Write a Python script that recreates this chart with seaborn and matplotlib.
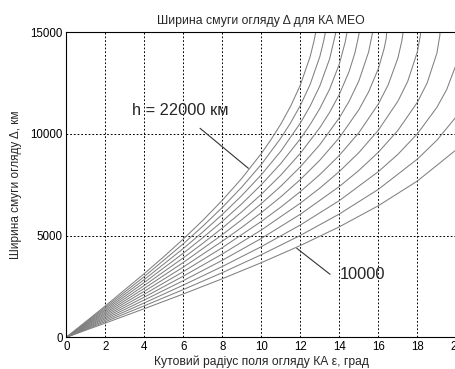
import matplotlib
matplotlib.use("Agg")
import matplotlib.pyplot as plt
import seaborn as sns
import pandas as pd

# ---- data (epsilon in degrees, swath width in km) ----
heights = [10000, 11000, 12000, 13000, 14000, 15000, 16000, 17000, 18000, 19000, 20000, 21000, 22000]

eps_h10000 = [0, 2, 4, 6, 8, 10, 12, 14, 16, 18, 20]
delta_h10000 = [0, 699, 1407, 2131, 2881, 3670, 4513, 5434, 6471, 7687, 9230]

eps_h11000 = [0, 2, 4, 6, 8, 10, 12, 14, 16, 18, 19, 20]
delta_h11000 = [0, 770, 1549, 2348, 3180, 4061, 5011, 6065, 7278, 8765, 9692, 10860]

eps_h12000 = [0, 2, 4, 6, 8, 10, 12, 14, 16, 17, 18, 19, 19.5, 20]
delta_h12000 = [0, 840, 1691, 2567, 3483, 4458, 5523, 6724, 8148, 8999, 10009, 11308, 12180, 13450]

eps_h13000 = [0, 2, 4, 6, 8, 10, 12, 14, 15, 16, 17, 18, 18.5, 19, 19.15, 19.2]
delta_h13000 = [0, 910, 1834, 2787, 3788, 4863, 6051, 7418, 8206, 9104, 10173, 11559, 12508, 13976, 14840, 15745]

eps_h14000 = [0, 2, 4, 6, 8, 10, 12, 13, 14, 15, 16, 17, 17.5, 18, 18.15, 18.225]
delta_h14000 = [0, 980, 1977, 3008, 4097, 5277, 6597, 7338, 8155, 9085, 10186, 11610, 12576, 14042, 14842, 15962]

eps_h15000 = [0, 2, 4, 6, 8, 10, 11, 12, 13, 14, 15, 16, 16.5, 17, 17.2, 17.25, 17.345]
delta_h15000 = [0, 1050, 2120, 3230, 4410, 5699, 6404, 7166, 8003, 8950, 10063, 11477, 12411, 13730, 14570, 14870, 16158]

eps_h16000 = [0, 2, 4, 6, 8, 9, 10, 11, 12, 13, 14, 15, 15.5, 16, 16.3, 16.4, 16.547]
delta_h16000 = [0, 1121, 2264, 3454, 4727, 5408, 6132, 6909, 7759, 8712, 9820, 11195, 12071, 13218, 14220, 14697, 16335]

eps_h17000 = [0, 2, 4, 6, 8, 9, 10, 11, 12, 13, 14, 14.5, 15, 15.5, 15.7, 15.819]
delta_h17000 = [0, 1191, 2408, 3680, 5048, 5787, 6576, 7433, 8385, 9476, 10798, 11610, 12610, 14036, 14978, 16497]

eps_h18000 = [0, 2, 4, 6, 7, 8, 9, 10, 11, 12, 13, 13.5, 14, 14.5, 14.8, 15.0, 15.155]
delta_h18000 = [0, 1261, 2552, 3907, 4623, 5374, 6173, 7033, 7979, 9048, 10313, 11064, 11950, 13075, 13996, 14883, 16645]

eps_h19000 = [0, 2, 4, 6, 7, 8, 9, 10, 11, 12, 12.5, 13, 13.5, 14, 14.3, 14.4, 14.544]
delta_h19000 = [0, 1332, 2697, 4136, 4900, 5706, 6568, 7506, 8551, 9761, 10460, 11256, 12205, 13443, 14525, 15041, 16781]

eps_h20000 = [0, 2, 4, 6, 7, 8, 9, 10, 11, 12, 12.5, 13, 13.5, 13.8, 13.981]
delta_h20000 = [0, 1402, 2843, 4367, 5180, 6044, 6973, 7995, 9155, 10538, 11369, 12367, 13694, 14916, 16906]

eps_h21000 = [0, 2, 4, 6, 7, 8, 9, 10, 11, 11.5, 12, 12.5, 13, 13.2, 13.28, 13.46]
delta_h21000 = [0, 1473, 2989, 4600, 5465, 6387, 7390, 8506, 9799, 10548, 11405, 12435, 13813, 14594, 14995, 17022]

eps_h22000 = [0, 2, 4, 5, 6, 7, 8, 9, 10, 10.5, 11, 11.5, 12, 12.5, 12.7, 12.78, 12.977]
delta_h22000 = [0, 1543, 3135, 3967, 4835, 5753, 6738, 7819, 9040, 9728, 10492, 11364, 12409, 13798, 14575, 14969, 17129]

xticks = [0, 2, 4, 6, 8, 10, 12, 14, 16, 18, 20]
yticks = [0, 5000, 10000, 15000]

title = "Ширина смуги огляду Δ для КА МЕО"
xlabel = "Кутовий радіус поля огляду КА ε, град"
ylabel = "Ширина смуги огляду Δ, км"
label_top = "h = 22000 км"
label_bottom = "10000"

# ---- build long-form table ----
series = {
    10000: (eps_h10000, delta_h10000), 11000: (eps_h11000, delta_h11000),
    12000: (eps_h12000, delta_h12000), 13000: (eps_h13000, delta_h13000),
    14000: (eps_h14000, delta_h14000), 15000: (eps_h15000, delta_h15000),
    16000: (eps_h16000, delta_h16000), 17000: (eps_h17000, delta_h17000),
    18000: (eps_h18000, delta_h18000), 19000: (eps_h19000, delta_h19000),
    20000: (eps_h20000, delta_h20000), 21000: (eps_h21000, delta_h21000),
    22000: (eps_h22000, delta_h22000),
}
rows = []
for h in heights:
    e, d = series[h]
    for xe, yd in zip(e, d):
        rows.append({"h": h, "eps": xe, "delta": yd})
df = pd.DataFrame(rows)

sns.set_style("white")
plt.rcParams["font.family"] = ["Liberation Sans", "DejaVu Sans"]

fig = plt.figure(figsize=(4.56, 3.69), dpi=100)
ax = fig.add_axes([0.1454, 0.0859, 0.8555, 0.8266])

sns.lineplot(data=df, x="eps", y="delta", units="h", estimator=None,
             color="0.5", linewidth=0.75, sort=False, ax=ax, legend=False)

ax.set_xlim(0, 20)
ax.set_ylim(0, 15000)
ax.set_xticks(xticks)
ax.set_yticks(yticks)
ax.set_xticklabels([str(t) for t in xticks])
ax.set_yticklabels([str(t) for t in yticks])
ax.tick_params(direction="in", length=3, width=0.8, labelsize=8.3, colors="black", pad=2.5)

ax.grid(True, color="black", linestyle=(0, (1.8, 2.0)), linewidth=0.7)
for s in ["left", "bottom", "top"]:
    ax.spines[s].set_visible(True)
    ax.spines[s].set_color("black")
    ax.spines[s].set_linewidth(0.8)
ax.spines["right"].set_visible(False)

ax.set_title(title, fontsize=8.8, pad=6)
ax.set_xlabel(xlabel, fontsize=8.7, labelpad=2)
ax.set_ylabel(ylabel, fontsize=8.5, labelpad=6)

# annotations
ax.plot([6.856, 9.333], [10279, 8312], color="0.2", linewidth=0.8)
ax.text(3.354, 10933, label_top, fontsize=11.8, ha="left", va="baseline")
ax.plot([11.815, 13.523], [4377, 3098], color="0.2", linewidth=0.8)
ax.text(14.0, 2852, label_bottom, fontsize=11.8, ha="left", va="baseline")

fig.savefig("out.png", dpi=100)
